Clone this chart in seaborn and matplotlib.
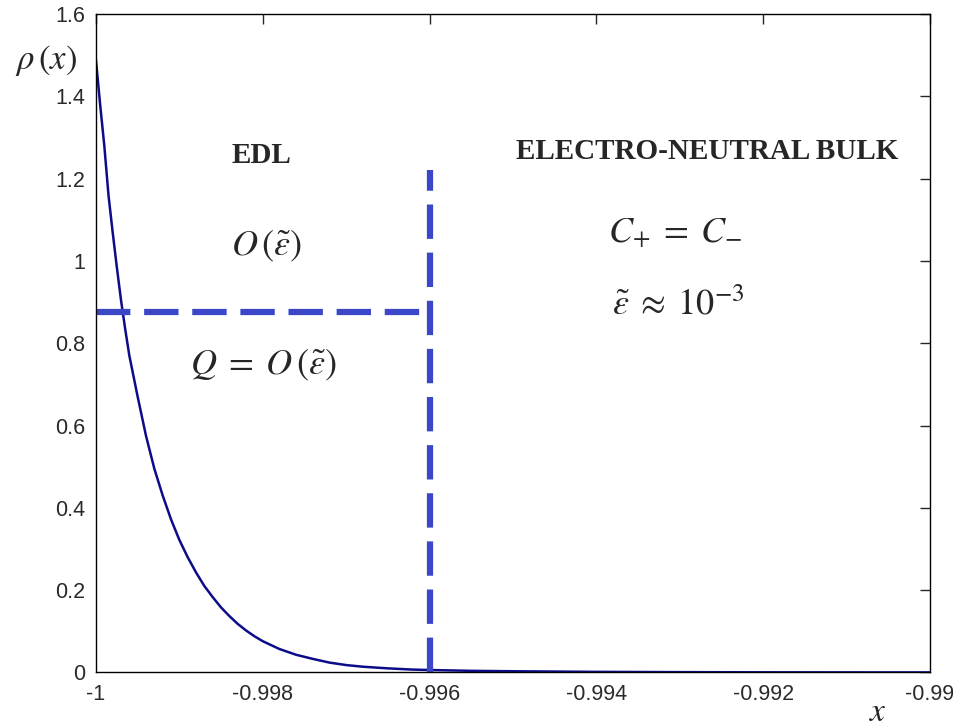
import numpy as np
import pandas as pd
import seaborn as sns
import matplotlib.pyplot as plt

# charge density profile rho(x)
x_vals = [-1.0, -0.99995, -0.9999, -0.99985, -0.9998, -0.99975, -0.9997,
          -0.99965, -0.9996, -0.9995, -0.9994, -0.9993, -0.9992, -0.9991,
          -0.999, -0.9989, -0.9988, -0.9987, -0.9986, -0.9985, -0.9984,
          -0.9983, -0.9982, -0.9981, -0.998, -0.9978, -0.9976, -0.9974,
          -0.9972, -0.997, -0.9968, -0.9965, -0.9962, -0.996, -0.9955,
          -0.995, -0.994, -0.993, -0.992, -0.99]
rho_vals = [1.488, 1.38, 1.28, 1.16, 1.07, 0.985, 0.905,
            0.835, 0.77, 0.67, 0.575, 0.495, 0.43, 0.372,
            0.322, 0.28, 0.243, 0.21, 0.183, 0.158, 0.137,
            0.118, 0.102, 0.088, 0.076, 0.057, 0.043, 0.033,
            0.024, 0.018, 0.014, 0.010, 0.007, 0.006, 0.004,
            0.003, 0.0015, 0.0008, 0.0004, 0.0001]

# dashed guides: charge level and EDL edge
q_level = 0.875
edl_edge = -0.996
edl_top = 1.22

x_ticks = [-1, -0.998, -0.996, -0.994, -0.992, -0.99]
x_tick_labels = ["-1", "-0.998", "-0.996", "-0.994", "-0.992", "-0.99"]
y_ticks = [0, 0.2, 0.4, 0.6, 0.8, 1.0, 1.2, 1.4, 1.6]
y_tick_labels = ["0", "0.2", "0.4", "0.6", "0.8", "1", "1.2", "1.4", "1.6"]

sns.set_theme(style="white")
plt.rcParams["font.family"] = ["Liberation Sans", "DejaVu Sans"]
plt.rcParams["mathtext.fontset"] = "stix"

fig = plt.figure(figsize=(9.54, 7.27), dpi=100)
ax = fig.add_axes([0.1006, 0.075, 0.8742, 0.9057])

df = pd.DataFrame({"x": x_vals, "rho": rho_vals})
sns.lineplot(data=df, x="x", y="rho", color="#0c0c8a", linewidth=1.8, ax=ax)

guide_color = "#3b47c6"
ax.plot([-1.0, edl_edge], [q_level, q_level], color=guide_color,
        linewidth=4.5, dashes=(5.5, 2.2), solid_capstyle="butt")
ax.plot([edl_edge, edl_edge], [0, edl_top], color=guide_color,
        linewidth=4.5, dashes=(5.5, 2.2), solid_capstyle="butt")

ax.set_xlim(-1.0, -0.99)
ax.set_ylim(0, 1.6)
ax.set_xticks(x_ticks)
ax.set_xticklabels(x_tick_labels)
ax.set_yticks(y_ticks)
ax.set_yticklabels(y_tick_labels)
ax.tick_params(direction="in", length=7, width=1, top=True, right=True,
               labelsize=15.5, labelcolor="#2a2a2a", pad=8)
for s in ax.spines.values():
    s.set_color("black")
    s.set_linewidth(1.0)
ax.set_xlabel("")
ax.set_ylabel("")

# axis labels placed like the original
fig.text(0.048, 0.917, r"$\rho\,(x)$", fontsize=25, ha="center", va="center")
fig.text(0.92, 0.02, r"$x$", fontsize=24, ha="center", va="center")

serif = ["Liberation Serif", "DejaVu Serif"]
ax.text(-0.99802, 1.257, "EDL", fontsize=21, fontweight="bold",
        family=serif, ha="center", va="center")
ax.text(-0.99267, 1.267, "ELECTRO-NEUTRAL BULK", fontsize=21,
        fontweight="bold", family=serif, ha="center", va="center")
ax.text(-0.99796, 1.036, r"$O\,(\tilde{\varepsilon})$", fontsize=26,
        ha="center", va="center")
ax.text(-0.99799, 0.747, r"$Q\;=\;O\,(\tilde{\varepsilon})$", fontsize=26,
        ha="center", va="center")
ax.text(-0.99305, 1.068, r"$C_{+}\;=\;C_{-}$", fontsize=26,
        ha="center", va="center")
ax.text(-0.99302, 0.893, r"$\tilde{\varepsilon}\;\approx\;10^{-3}$",
        fontsize=26, ha="center", va="center")

fig.savefig("out.png", dpi=100)
